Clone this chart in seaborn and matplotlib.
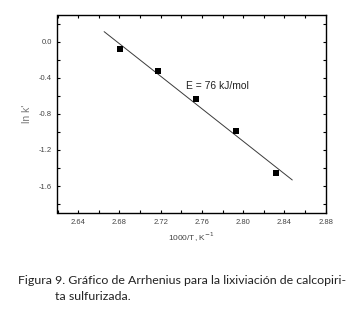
import matplotlib
matplotlib.use("Agg")
import matplotlib.pyplot as plt
import seaborn as sns
import pandas as pd
from matplotlib.ticker import MultipleLocator

# Data
inv_T = [2.681, 2.717, 2.7545, 2.793, 2.832]
ln_k = [-0.078, -0.326, -0.633, -0.993, -1.459]
fit_x = [2.6652, 2.8476]
fit_y = [0.115, -1.533]
x_ticks = [2.64, 2.68, 2.72, 2.76, 2.80, 2.84, 2.88]
y_ticks = [0.0, -0.4, -0.8, -1.2, -1.6]
annotation = "E = 76 kJ/mol"
caption1 = "Figura 9. Gráfico de Arrhenius para la lixiviación de calcopiri-"
caption2 = "ta sulfurizada."

sns.set_style("ticks")
plt.rcParams['font.family'] = ['Liberation Sans', 'DejaVu Sans']

fig = plt.figure(figsize=(3.6, 3.11), dpi=100)
ax = fig.add_axes([57.5/360, 1 - 213/311, (325.7-57.5)/360, (213-15)/311])

pts = pd.DataFrame({"x": inv_T, "y": ln_k})
fit = pd.DataFrame({"x": fit_x, "y": fit_y})
sns.lineplot(data=fit, x="x", y="y", ax=ax, color="#3a3a3a", linewidth=0.7)
sns.scatterplot(data=pts, x="x", y="y", ax=ax, marker="s", s=22, color="black",
                edgecolor="black", linewidth=0, zorder=3)

ax.set_xlim(2.62, 2.88)
ax.set_ylim(-1.9, 0.3)
ax.set_xticks(x_ticks)
ax.set_xticklabels([f"{v:.2f}" for v in x_ticks])
ax.set_yticks(y_ticks)
ax.set_yticklabels([f"{v:.1f}" for v in y_ticks])
ax.xaxis.set_minor_locator(MultipleLocator(0.02))
ax.yaxis.set_minor_locator(MultipleLocator(0.2))
ax.tick_params(which="both", direction="in", top=True, right=True,
               length=2.5, width=0.8, color="black", labelsize=5.5,
               labelcolor="#444444", pad=4)
for sp in ax.spines.values():
    sp.set_linewidth(1.0)
    sp.set_color("black")

ax.set_xlabel("1000/T, K$^{-1}$", fontsize=6, color="#444444", labelpad=4)
ax.set_ylabel("ln k'", fontsize=7.5, color="#777777", labelpad=5)

ax.text(2.745, -0.489, annotation, fontsize=7.4, color="#222222", va="center", ha="left")

fig.text(18/360, 1 - 281/311, caption1, fontsize=8.9, color="#222222",
         family=["Lato", "DejaVu Sans"], va="center", ha="left")
fig.text(55/360, 1 - 297/311, caption2, fontsize=8.9, color="#222222",
         family=["Lato", "DejaVu Sans"], va="center", ha="left")

fig.savefig("out.png", dpi=100)
